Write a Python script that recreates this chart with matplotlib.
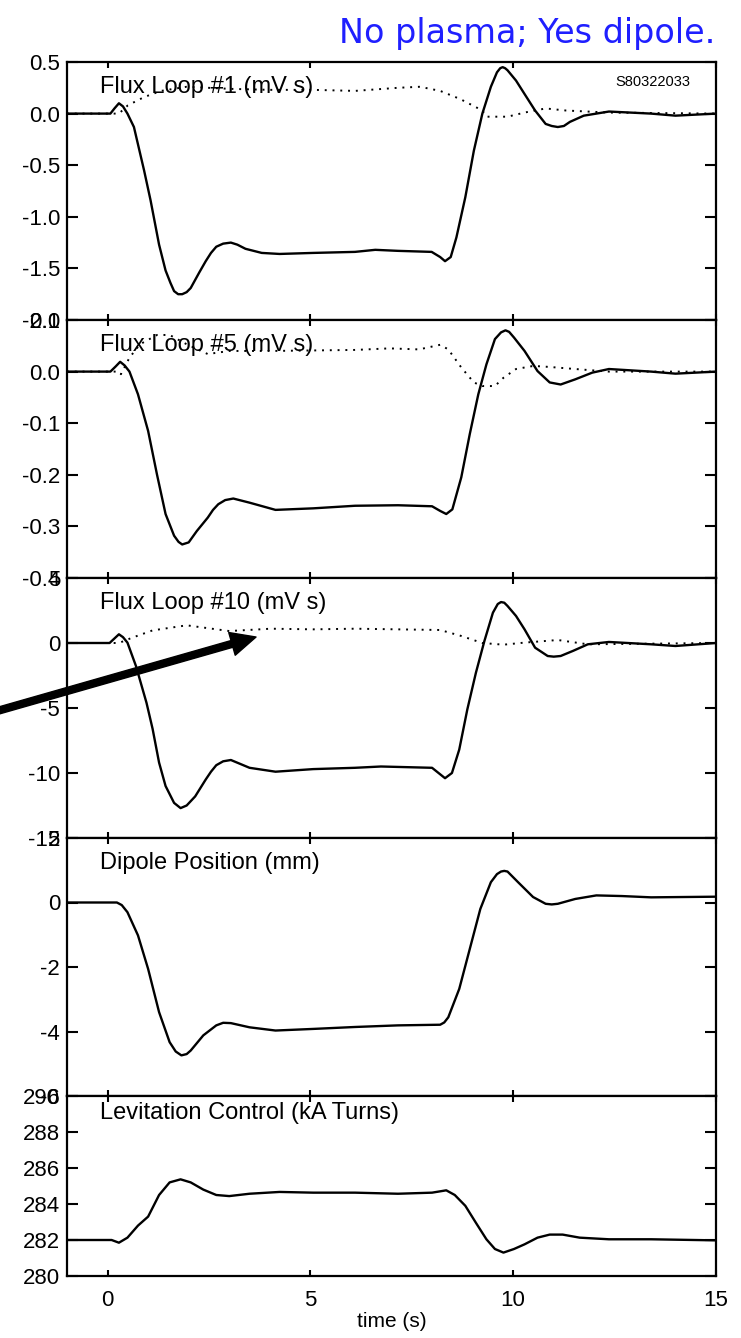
import matplotlib
matplotlib.use("Agg")
import matplotlib.pyplot as plt

plt.rcParams['font.family'] = ['Liberation Sans', 'DejaVu Sans']
plt.rcParams['axes.unicode_minus'] = False

# ---- data (time in s) ----
t1 = [-1, 0.07, 0.17, 0.28, 0.38, 0.49, 0.65, 0.9, 1.06, 1.27, 1.43, 1.55, 1.64, 1.74, 1.84, 1.95, 2.05,
      2.26, 2.42, 2.55, 2.68, 2.85, 3.04, 3.2, 3.4, 3.8, 4.24, 5.07, 6.1, 6.6, 7.16, 7.99, 8.2, 8.32,
      8.46, 8.6, 8.82, 9.03, 9.24, 9.45, 9.6, 9.68, 9.74, 9.8, 9.86, 10.07, 10.28, 10.54, 10.8, 10.95,
      11.1, 11.25, 11.4, 11.74, 12.36, 13.4, 14.0, 15]
flux1 = [0, 0, 0.05, 0.10, 0.07, 0.0, -0.13, -0.55, -0.84, -1.27, -1.52, -1.64, -1.72, -1.75, -1.75, -1.73, -1.69,
         -1.54, -1.43, -1.35, -1.29, -1.26, -1.25, -1.27, -1.31, -1.35, -1.36, -1.35, -1.34, -1.32, -1.33, -1.34, -1.39, -1.43,
         -1.39, -1.2, -0.81, -0.36, 0.0, 0.26, 0.40, 0.44, 0.45, 0.44, 0.42, 0.32, 0.19, 0.03, -0.10, -0.12,
         -0.13, -0.12, -0.08, -0.02, 0.02, 0.0, -0.02, 0.0]
t1_dot = [-1, 0.28, 0.5, 0.9, 1.32, 1.95, 3.0, 4.0, 5.07, 6.1, 7.16, 7.7, 8.2, 8.7, 9.24, 9.34,
          9.86, 10.28, 10.8, 11.3, 12.36, 15]
flux1_dot = [0, 0, 0.08, 0.16, 0.22, 0.26, 0.24, 0.23, 0.23, 0.22, 0.25, 0.26, 0.22, 0.14, 0.03, -0.03,
             -0.03, 0.01, 0.05, 0.03, 0.01, 0]

t5 = [-1, 0.07, 0.2, 0.31, 0.42, 0.54, 0.75, 1.0, 1.22, 1.43, 1.64, 1.75, 1.84, 2.0, 2.2, 2.47, 2.6,
      2.73, 2.9, 3.1, 3.5, 4.14, 5.07, 6.1, 7.16, 8.0, 8.2, 8.35, 8.5, 8.72, 8.93, 9.14, 9.34,
      9.55, 9.7, 9.81, 9.9, 10.02, 10.28, 10.6, 10.9, 11.17, 11.53, 11.95, 12.36, 13.4, 14.0, 15]
flux5 = [0, 0, 0.01, 0.019, 0.012, 0.0, -0.044, -0.115, -0.2, -0.276, -0.318, -0.33, -0.335, -0.331, -0.309, -0.283, -0.268,
         -0.257, -0.249, -0.246, -0.254, -0.268, -0.265, -0.26, -0.259, -0.261, -0.27, -0.276, -0.267, -0.205, -0.121, -0.044, 0.014,
         0.063, 0.076, 0.08, 0.077, 0.066, 0.04, 0.001, -0.021, -0.025, -0.015, -0.002, 0.005, 0.0, -0.004, 0.0]
t5_dot = [-1, 0.28, 0.33, 0.54, 0.8, 1.22, 1.53, 1.95, 2.47, 3.0, 4.03, 5.07, 6.1, 6.95, 7.68, 8.2,
          8.4, 8.72, 9.03, 9.24, 9.55, 9.76, 10.07, 10.5, 10.9, 11.53, 12.36, 15]
flux5_dot = [0, 0, -0.005, 0.027, 0.053, 0.071, 0.071, 0.053, 0.034, 0.04, 0.04, 0.041, 0.042, 0.045, 0.043, 0.052,
             0.043, 0.008, -0.021, -0.028, -0.028, -0.012, 0.005, 0.011, 0.009, 0.005, 0.0, 0]

t10 = [-1, 0.05, 0.17, 0.28, 0.38, 0.49, 0.7, 0.96, 1.11, 1.27, 1.43, 1.64, 1.8, 1.95, 2.16, 2.42, 2.55,
       2.68, 2.85, 3.04, 3.5, 4.14, 5.07, 6.1, 6.74, 8.0, 8.2, 8.32, 8.49, 8.67, 8.87, 9.08, 9.29,
       9.5, 9.62, 9.7, 9.78, 9.86, 10.07, 10.28, 10.54, 10.85, 11.0, 11.17, 11.48, 11.84, 12.36, 13.4, 14.0, 15]
flux10 = [0, 0, 0.35, 0.67, 0.45, 0.03, -1.77, -4.6, -6.6, -9.2, -11.0, -12.3, -12.7, -12.5, -11.8, -10.5, -9.9,
          -9.4, -9.1, -9.0, -9.6, -9.9, -9.7, -9.6, -9.5, -9.6, -10.1, -10.4, -10.0, -8.2, -5.1, -2.3, 0.15,
          2.33, 3.0, 3.15, 3.1, 2.85, 2.08, 1.05, -0.36, -1.0, -1.05, -1.0, -0.6, -0.1, 0.08, -0.1, -0.23, 0]
t10_dot = [-1, 0.28, 0.6, 1.11, 1.95, 3.0, 4.03, 5.07, 6.1, 7.16, 8.2, 8.72, 9.24, 9.76, 10.28, 11.1,
           11.84, 15]
flux10_dot = [0, 0, 0.4, 0.97, 1.36, 0.92, 1.1, 1.05, 1.1, 1.05, 1.0, 0.54, 0.0, -0.13, 0.03, 0.23,
              -0.1, 0]

t_pos = [-1, 0.23, 0.35, 0.49, 0.75, 1.0, 1.27, 1.53, 1.68, 1.82, 1.95, 2.05, 2.36, 2.68, 2.85, 3.04, 3.5,
         4.14, 5.07, 6.1, 7.16, 8.2, 8.3, 8.4, 8.67, 8.93, 9.19, 9.45, 9.6, 9.7, 9.78, 9.86, 10.12,
         10.49, 10.8, 10.95, 11.1, 11.53, 12.05, 12.68, 13.4, 15]
dipole_pos = [0, 0, -0.08, -0.3, -1.02, -2.06, -3.4, -4.33, -4.62, -4.74, -4.7, -4.59, -4.12, -3.81, -3.73, -3.74, -3.87,
              -3.97, -3.92, -3.86, -3.81, -3.79, -3.72, -3.56, -2.68, -1.44, -0.2, 0.63, 0.88, 0.96, 0.98, 0.96, 0.63,
              0.17, -0.04, -0.06, -0.04, 0.11, 0.22, 0.2, 0.16, 0.18]

t_lev = [-1, 0.1, 0.28, 0.49, 0.75, 1.0, 1.27, 1.53, 1.8, 2.05, 2.36, 2.68, 3.0, 3.5, 4.24, 5.07,
         6.1, 7.16, 8.0, 8.35, 8.56, 8.82, 9.08, 9.34, 9.55, 9.76, 10.02, 10.28, 10.6, 10.9, 11.22, 11.64,
         12.36, 13.4, 15]
lev_ctrl = [282.0, 282.0, 281.85, 282.13, 282.8, 283.3, 284.5, 285.2, 285.37, 285.2, 284.8, 284.5, 284.44, 284.57, 284.67, 284.63,
            284.63, 284.57, 284.63, 284.76, 284.5, 283.9, 282.96, 282.04, 281.5, 281.3, 281.5, 281.76, 282.13, 282.3, 282.3, 282.13,
            282.04, 282.04, 281.98]

labels = ['Flux Loop #1 (mV s)', 'Flux Loop #5 (mV s)', 'Flux Loop #10 (mV s)',
          'Dipole Position (mm)', 'Levitation Control (kA Turns)']
ylims = [(-2.0, 0.5), (-0.4, 0.1), (-15, 5), (-6, 2), (280, 290)]
yticks = [[-2.0, -1.5, -1.0, -0.5, 0.0, 0.5],
          [-0.4, -0.3, -0.2, -0.1, 0.0, 0.1],
          [-15, -10, -5, 0, 5],
          [-6, -4, -2, 0, 2],
          [280, 282, 284, 286, 288, 290]]
ytick_fmt = ['{:.1f}', '{:.1f}', '{:d}', '{:d}', '{:d}']
solid = [(t1, flux1), (t5, flux5), (t10, flux10), (t_pos, dipole_pos), (t_lev, lev_ctrl)]
dotted = [(t1_dot, flux1_dot), (t5_dot, flux5_dot), (t10_dot, flux10_dot), None, None]

# ---- figure ----
W, H = 741, 1338
fig = plt.figure(figsize=(W / 100, H / 100), dpi=100)
fig.patch.set_facecolor('white')

edges = [62, 320, 578, 838, 1096, 1276]   # panel edges in pixels from top
left_px, right_px = 67, 716

axes = []
for i in range(5):
    top, bot = edges[i], edges[i + 1]
    ax = fig.add_axes([left_px / W, (H - bot) / H, (right_px - left_px) / W, (bot - top) / H])
    ax.plot(solid[i][0], solid[i][1], color='black', lw=1.7)
    if dotted[i] is not None:
        ax.plot(dotted[i][0], dotted[i][1], color='black', lw=1.4, linestyle=(0, (1, 3)))
    ax.set_xlim(-1, 15)
    ax.set_ylim(*ylims[i])
    ax.set_yticks(yticks[i])
    ax.set_yticklabels([ytick_fmt[i].format(v) for v in yticks[i]])
    ax.set_xticks([0, 5, 10, 15])
    ax.tick_params(axis='y', direction='in', length=8, width=1.5, left=True, right=True,
                   labelsize=16, pad=5)
    ax.tick_params(axis='x', direction='in', length=4, width=1.5, top=True, bottom=True,
                   labelsize=16, pad=10, labelbottom=(i == 4))
    for sp in ax.spines.values():
        sp.set_linewidth(1.6)
    ax.text(0.051, 0.905, labels[i], transform=ax.transAxes, fontsize=17, va='center', ha='left')
    axes.append(ax)

axes[0].text(0.903, 0.922, 'S80322033', transform=axes[0].transAxes, fontsize=10.5,
             va='center', ha='center')
axes[4].set_xlabel('time (s)', fontsize=15, labelpad=1)

# arrow pointing at the flux loop #10 dotted trace
axes[2].annotate('', xy=(3.66, 0.46), xytext=(-2.8, -5.3),
                 arrowprops=dict(facecolor='black', edgecolor='black', width=5,
                                 headwidth=17, headlength=18, shrink=0),
                 annotation_clip=False)

fig.text(715 / W, 1 - 33 / H, 'No plasma; Yes dipole.', color='#1f1fff', fontsize=24,
         ha='right', va='center', family=['DejaVu Sans'])

fig.savefig('out.png', dpi=100)
